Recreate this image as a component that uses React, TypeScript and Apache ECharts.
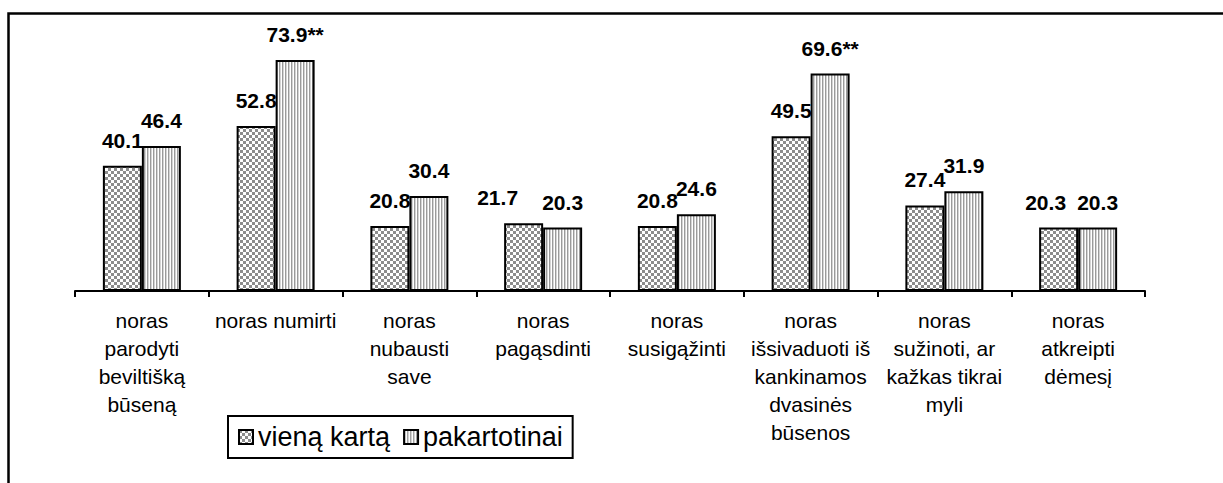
import React, { useEffect, useRef } from 'react';
import * as echarts from 'echarts';

const categories = [
  'noras\nparodyti\nbeviltišką\nbūseną',
  'noras numirti',
  'noras\nnubausti\nsave',
  'noras\npagąsdinti',
  'noras\nsusigąžinti',
  'noras\nišsivaduoti iš\nkankinamos\ndvasinės\nbūsenos',
  'noras\nsužinoti, ar\nkažkas tikrai\nmyli',
  'noras\natkreipti\ndėmesį',
];
const seriesNames = ['vieną kartą', 'pakartotinai'];
const onceValues = [40.1, 52.8, 20.8, 21.7, 20.8, 49.5, 27.4, 20.3];
const repeatValues = [46.4, 73.9, 30.4, 20.3, 24.6, 69.6, 31.9, 20.3];
const onceMarks = ['', '', '', '', '', '', '', ''];
const repeatMarks = ['', '**', '', '', '', '**', '', ''];
const yMin = 0;
const yMax = 80;

const FONT = '"Liberation Sans", Arial, Helvetica, sans-serif';

// manual horizontal nudges of a few value labels (as in the original), in px
const onceLabelNudge = [0, 0, 0, -26, 0, 0, 0, -13];
const repeatLabelNudge = [0, 0, 0, 0, 0, 0, 0, 0];

function makeChecker(): HTMLCanvasElement {
  const c = document.createElement('canvas');
  c.width = 6;
  c.height = 6;
  const ctx = c.getContext('2d')!;
  ctx.fillStyle = '#ffffff';
  ctx.fillRect(0, 0, 6, 6);
  ctx.fillStyle = '#8c8c8c';
  ctx.fillRect(0, 0, 3, 3);
  ctx.fillRect(3, 3, 3, 3);
  return c;
}

function makeStripes(): HTMLCanvasElement {
  const c = document.createElement('canvas');
  c.width = 3;
  c.height = 3;
  const ctx = c.getContext('2d')!;
  ctx.fillStyle = '#ffffff';
  ctx.fillRect(0, 0, 3, 3);
  ctx.fillStyle = '#9a9a9a';
  ctx.fillRect(0, 0, 1, 3);
  ctx.fillStyle = '#d4d4d4';
  ctx.fillRect(1, 0, 1, 3);
  return c;
}

export default function App() {
  const ref = useRef<HTMLDivElement>(null);

  useEffect(() => {
    if (!ref.current) return;
    const chart = echarts.init(ref.current, undefined, { renderer: 'svg' });
    const checker = makeChecker();
    const stripes = makeStripes();

    const labelStyle = (marks: string[]) => ({
      show: true,
      position: 'top' as const,
      distance: 15,
      color: '#000',
      fontFamily: FONT,
      fontWeight: 'bold' as const,
      fontSize: 21,
      formatter: (p: any) => `${p.value}${marks[p.dataIndex]}`,
    });

    const withNudge = (values: number[], nudge: number[]) =>
      values.map((v, i) => (nudge[i] ? { value: v, label: { offset: [nudge[i], 0] } } : v));

    chart.setOption({
      animation: false,
      backgroundColor: '#ffffff',
      grid: { left: 75, right: 78, top: 41, bottom: 192, containLabel: false },
      xAxis: {
        type: 'category',
        data: categories,
        boundaryGap: true,
        axisLine: { show: true, lineStyle: { color: '#000', width: 2 } },
        axisTick: { show: true, alignWithLabel: false, interval: 0, length: 6, lineStyle: { color: '#000', width: 2 } },
        axisLabel: {
          interval: 0,
          color: '#000',
          fontFamily: FONT,
          fontSize: 21,
          lineHeight: 28,
          margin: 15,
          align: 'center',
        },
      },
      yAxis: {
        type: 'value',
        min: yMin,
        max: yMax,
        show: false,
        splitLine: { show: false },
      },
      legend: {
        data: seriesNames,
        left: 228,
        top: 416,
        orient: 'horizontal',
        icon: 'rect',
        itemWidth: 14,
        itemHeight: 14,
        itemGap: 13,
        padding: [7, 10, 7, 10],
        backgroundColor: '#ffffff',
        borderColor: '#000',
        borderWidth: 2,
        borderRadius: 0,
        textStyle: { color: '#000', fontFamily: FONT, fontSize: 27, lineHeight: 28 },
      },
      graphic: [
        {
          type: 'polyline',
          silent: true,
          shape: { points: [[8.5, 600], [8.5, 13.5], [1400, 13.5]] },
          style: { stroke: '#000', lineWidth: 2.5, fill: 'none' },
        },
      ],
      series: [
        {
          name: seriesNames[0],
          type: 'bar',
          data: withNudge(onceValues, onceLabelNudge),
          barWidth: 39,
          barGap: '0%',
          itemStyle: {
            color: { image: checker, repeat: 'repeat', imageWidth: 6, imageHeight: 6 } as any,
            borderColor: '#000',
            borderWidth: 2,
          },
          label: labelStyle(onceMarks),
        },
        {
          name: seriesNames[1],
          type: 'bar',
          data: withNudge(repeatValues, repeatLabelNudge),
          barWidth: 39,
          barGap: '0%',
          itemStyle: {
            color: { image: stripes, repeat: 'repeat', imageWidth: 3, imageHeight: 3 } as any,
            borderColor: '#000',
            borderWidth: 2,
          },
          label: labelStyle(repeatMarks),
        },
      ],
    });

    return () => {
      chart.dispose();
    };
  }, []);

  return (
    <div
      ref={ref}
      style={{ position: 'absolute', left: 0, top: 0, width: 1223, height: 483, background: '#fff' }}
    />
  );
}
